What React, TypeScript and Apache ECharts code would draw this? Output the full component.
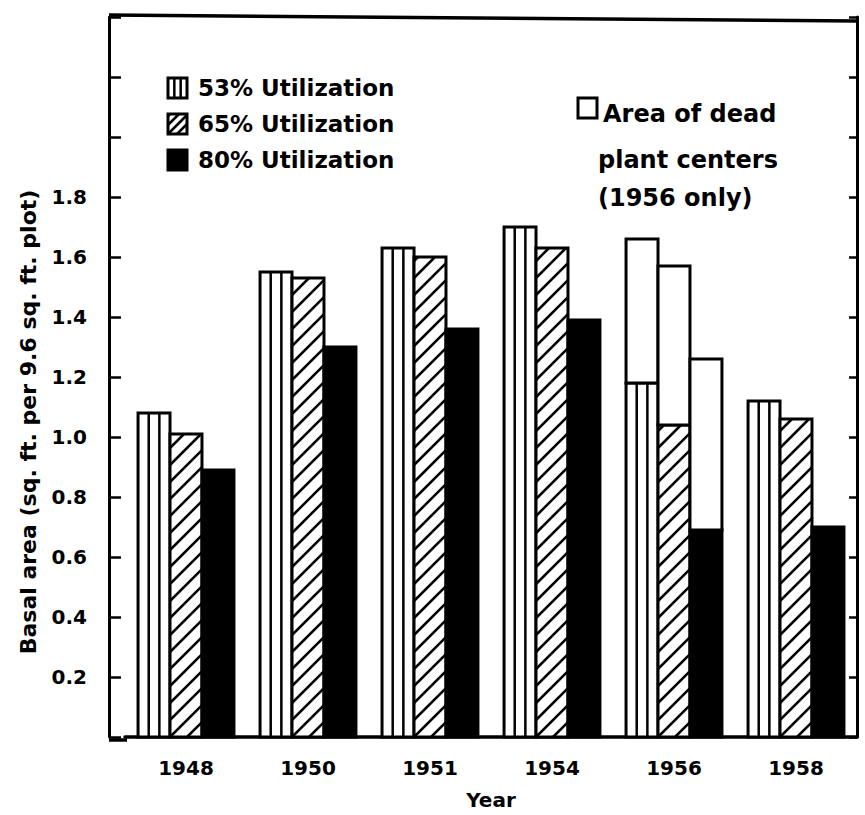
import React, { useEffect, useRef } from "react";
import * as echarts from "echarts";

// Basal area by year and grazing intensity
const years = ["1948", "1950", "1951", "1954", "1956", "1958"];
const util53 = [1.08, 1.55, 1.63, 1.7, 1.18, 1.12];
const util65 = [1.01, 1.53, 1.6, 1.63, 1.04, 1.06];
const util80 = [0.89, 1.3, 1.36, 1.39, 0.69, 0.7];
// Dead plant centers, measured in 1956 only, stacked on top of the live area
const deadYear = "1956";
const deadArea = [0.48, 0.53, 0.57];

const legendLabels = ["53% Utilization", "65% Utilization", "80% Utilization"];
const deadLabel = ["Area of dead", "plant centers", "(1956 only)"];
const yTitle = "Basal area (sq. ft. per 9.6 sq. ft. plot)";
const xTitle = "Year";

const FONT = '"DejaVu Sans", sans-serif';
const BAR_FRAC = 0.262;
const HATCH_STEP = 17;

type Kind = "vert" | "hatch" | "solid" | "open";

function hatchLines(x0: number, yTop: number, w: number, yBot: number, step: number, lw: number) {
  const out: any[] = [];
  const cStart = x0 + yBot + Math.ceil(w / step) * step;
  for (let c = cStart; c > x0 + yTop; c -= step) {
    const xa = Math.max(x0, c - yBot);
    const xb = Math.min(x0 + w, c - yTop);
    if (xb - xa > 0.5) {
      out.push({
        type: "line",
        shape: { x1: xa, y1: c - xa, x2: xb, y2: c - xb },
        style: { stroke: "#000", lineWidth: lw },
      });
    }
  }
  return out;
}

function barShapes(kind: Kind, x0: number, yTop: number, w: number, yBot: number, lw: number, inner: number, step: number) {
  const h = yBot - yTop;
  const children: any[] = [];
  if (kind === "solid") {
    children.push({
      type: "rect",
      shape: { x: x0, y: yTop, width: w, height: h },
      style: { fill: "#000", stroke: "#000", lineWidth: lw },
    });
    return children;
  }
  children.push({
    type: "rect",
    shape: { x: x0, y: yTop, width: w, height: h },
    style: { fill: "#fff", stroke: "none" },
  });
  if (kind === "vert") {
    [1, 2].forEach((k) => {
      const x = x0 + (w * k) / 3;
      children.push({
        type: "line",
        shape: { x1: x, y1: yTop, x2: x, y2: yBot },
        style: { stroke: "#000", lineWidth: inner },
      });
    });
  } else if (kind === "hatch") {
    children.push(...hatchLines(x0, yTop, w, yBot, step, inner));
  }
  children.push({
    type: "rect",
    shape: { x: x0, y: yTop, width: w, height: h },
    style: { fill: "none", stroke: "#000", lineWidth: lw },
  });
  return children;
}

function renderFor(slot: number, kind: Kind) {
  return (_params: any, api: any) => {
    const cat = api.value(0);
    const v = api.value(1);
    const base = api.coord([cat, 0]);
    const top = api.coord([cat, v]);
    const w = api.size([1, 0])[0] * BAR_FRAC;
    const x0 = base[0] + (slot - 1.5) * w;
    return { type: "group", children: barShapes(kind, x0, top[1], w, base[1], 3, 2.5, HATCH_STEP) };
  };
}

function renderDead(_params: any, api: any) {
  const cat = api.value(0);
  const slot = api.value(1);
  const lo = api.coord([cat, api.value(2)]);
  const hi = api.coord([cat, api.value(3)]);
  const w = api.size([1, 0])[0] * BAR_FRAC;
  const x0 = lo[0] + (slot - 1.5) * w;
  return { type: "group", children: barShapes("open", x0, hi[1], w, lo[1], 3, 2.5, HATCH_STEP) };
}

function textEl(text: string, x: number, y: number, size: number) {
  return {
    type: "text",
    style: {
      text,
      x,
      y,
      fill: "#000",
      fontSize: size,
      fontFamily: FONT,
      fontWeight: "bold",
      verticalAlign: "middle",
    },
  };
}

function decorGraphics() {
  const els: any[] = [];
  const kinds: Kind[] = ["vert", "hatch", "solid"];
  const rowsY = [88, 124, 160];
  const bx = 168;
  const bw = 19;
  const bh = 20;
  kinds.forEach((k, i) => {
    const yTop = rowsY[i] - bh / 2;
    els.push(...barShapes(k, bx, yTop, bw, yTop + bh, 3, 2.5, 9));
    els.push(textEl(legendLabels[i], 198, rowsY[i], 23));
  });
  els.push(...barShapes("open", 578, 98, 19, 118, 3, 2.5, 9));
  const deadPos = [
    [603, 114],
    [598, 160],
    [598, 198],
  ];
  deadLabel.forEach((t, i) => els.push(textEl(t, deadPos[i][0], deadPos[i][1], 24)));

  // vertical axis title
  els.push({
    type: "text",
    x: 28,
    y: 422,
    rotation: Math.PI / 2,
    style: {
      text: yTitle,
      x: 0,
      y: 0,
      fill: "#000",
      fontSize: 22,
      fontFamily: FONT,
      fontWeight: "bold",
      align: "center",
      verticalAlign: "middle",
    },
  });

  // frame: top edge and the stretch of base line left of the plotting band
  els.push({ type: "line", shape: { x1: 109, y1: 15, x2: 858, y2: 21 }, style: { stroke: "#000", lineWidth: 3.5 } });
  els.push({ type: "line", shape: { x1: 109, y1: 740, x2: 127, y2: 740 }, style: { stroke: "#000", lineWidth: 3.5 } });
  return els;
}

export default function App() {
  const ref = useRef<HTMLDivElement>(null);

  useEffect(() => {
    document.body.style.margin = "0";
    if (!ref.current) return;
    const chart = echarts.init(ref.current, null, { renderer: "svg" });
    const deadIdx = years.indexOf(deadYear);
    const live = [util53, util65, util80];
    const deadData = deadArea.map((d, i) => [deadIdx, i, live[i][deadIdx], +(live[i][deadIdx] + d).toFixed(2)]);

    const axisText = { color: "#000", fontSize: 20, fontFamily: FONT, fontWeight: "bold" as const };

    chart.setOption({
      animation: false,
      backgroundColor: "#fff",
      grid: { left: 125, right: 8, top: 17, bottom: 75 },
      xAxis: {
        type: "category",
        data: years,
        axisLine: { show: true, lineStyle: { color: "#000", width: 3.5 } },
        axisTick: { show: false },
        axisLabel: { ...axisText, margin: 21 },
        splitLine: { show: false },
        name: xTitle,
        nameLocation: "middle",
        nameGap: 53,
        nameTextStyle: { ...axisText },
      },
      yAxis: [
        {
          type: "value",
          min: 0,
          max: 2.4,
          interval: 0.2,
          position: "left",
          offset: 16,
          axisLine: { show: true, lineStyle: { color: "#000", width: 3 } },
          axisTick: { show: true, inside: true, length: 12, lineStyle: { color: "#000", width: 2.5 } },
          axisLabel: {
            ...axisText,
            margin: 22,
            formatter: (v: number) => (v > 0.1 && v < 1.9 ? v.toFixed(1) : ""),
          },
          splitLine: { show: false },
        },
        {
          type: "value",
          min: 0,
          max: 2.4,
          interval: 0.2,
          position: "right",
          axisLine: { show: true, lineStyle: { color: "#000", width: 3 } },
          axisTick: { show: true, inside: true, length: 8, lineStyle: { color: "#000", width: 2.5 } },
          axisLabel: { show: false },
          splitLine: { show: false },
        },
      ],
      series: [
        { type: "custom", name: legendLabels[0], data: util53.map((v, i) => [i, v]), encode: { x: 0, y: 1 }, renderItem: renderFor(0, "vert") },
        { type: "custom", name: legendLabels[1], data: util65.map((v, i) => [i, v]), encode: { x: 0, y: 1 }, renderItem: renderFor(1, "hatch") },
        { type: "custom", name: legendLabels[2], data: util80.map((v, i) => [i, v]), encode: { x: 0, y: 1 }, renderItem: renderFor(2, "solid") },
        { type: "custom", name: deadLabel.join(" "), data: deadData, encode: { x: 0, y: [2, 3] }, renderItem: renderDead },
      ],
      graphic: decorGraphics(),
    });
    return () => chart.dispose();
  }, []);

  return <div ref={ref} style={{ width: 865, height: 815 }} />;
}
